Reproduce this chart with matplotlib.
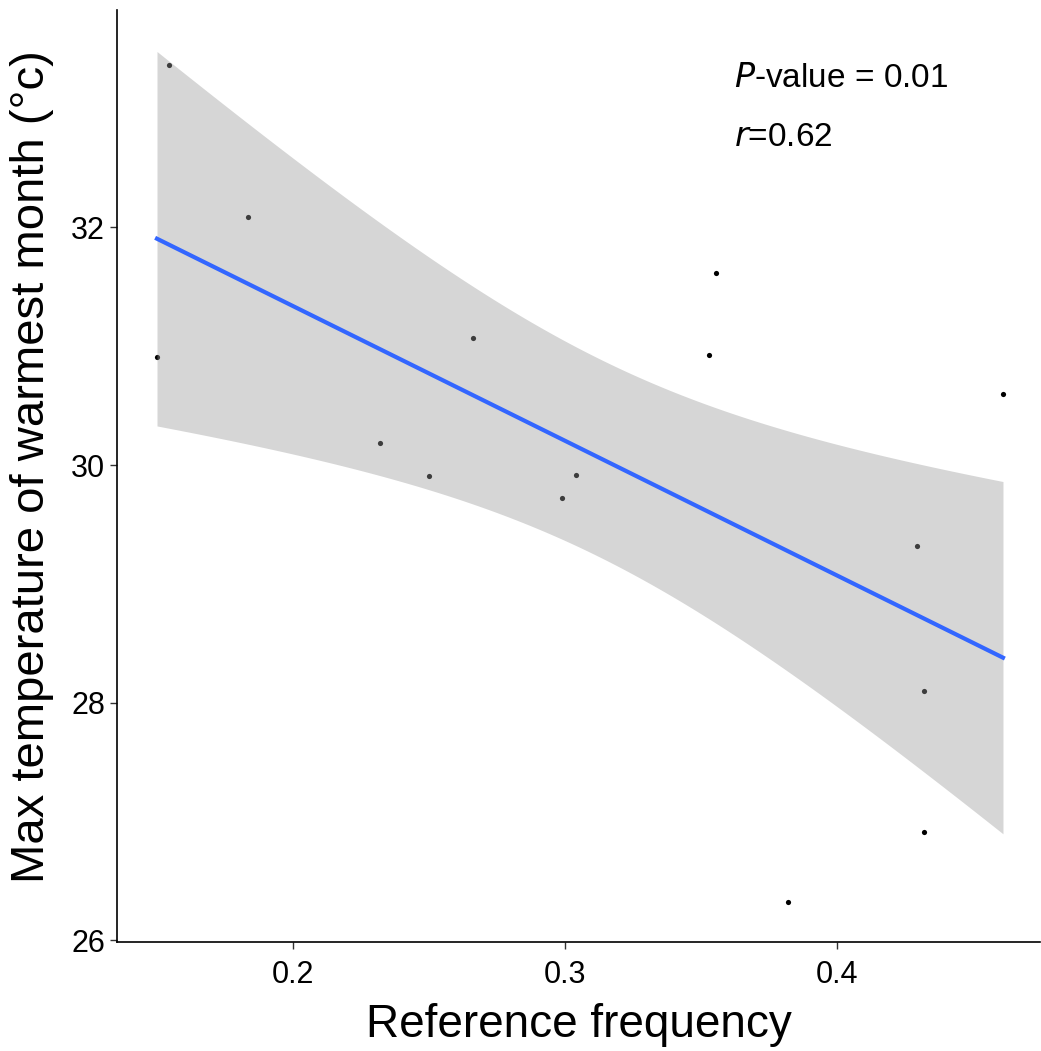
import numpy as np
import matplotlib.pyplot as plt

plt.rcParams['font.family'] = ['Liberation Sans', 'DejaVu Sans']

# data
ref_freq = [0.150, 0.1544, 0.1835, 0.232, 0.250, 0.266, 0.299, 0.304,
            0.353, 0.3555, 0.382, 0.4294, 0.432, 0.432, 0.461]
max_temp = [30.91, 33.37, 32.09, 30.185, 29.91, 31.07, 29.72, 29.92,
            30.93, 31.62, 26.32, 29.32, 28.10, 26.91, 30.60]
x_ticks = [0.2, 0.3, 0.4]
y_ticks = [26, 28, 30, 32]

x = np.array(ref_freq)
y = np.array(max_temp)
n = len(x)

# linear fit with 95% confidence band (like geom_smooth(method='lm'))
slope, intercept = np.polyfit(x, y, 1)
xs = np.linspace(x.min(), x.max(), 200)
ys = intercept + slope * xs
resid = y - (intercept + slope * x)
s = np.sqrt(np.sum(resid ** 2) / (n - 2))
t_crit = 2.160  # t(0.975, df=13)
se = s * np.sqrt(1.0 / n + (xs - x.mean()) ** 2 / np.sum((x - x.mean()) ** 2))

fig = plt.figure(figsize=(10.41, 10.51), dpi=100)
ax = fig.add_axes([0.1124, 0.1037, 0.8866, 0.8868])

ax.scatter(x, y, s=14, color='black', zorder=1, linewidths=0)
ax.fill_between(xs, ys - t_crit * se, ys + t_crit * se, color='#999999',
                alpha=0.4, linewidth=0, zorder=2)
ax.plot(xs, ys, color='#3366FF', linewidth=3, zorder=3)

ax.set_xlim(0.1353, 0.4746)
ax.set_ylim(25.985, 33.83)
ax.set_xticks(x_ticks)
ax.set_xticklabels(['0.2', '0.3', '0.4'])
ax.set_yticks(y_ticks)
ax.tick_params(labelsize=22, length=5, width=1, color='#333333')
ax.tick_params(axis='x', pad=8)

for side in ['top', 'right']:
    ax.spines[side].set_visible(False)
for side in ['left', 'bottom']:
    ax.spines[side].set_linewidth(1.2)

ax.set_xlabel('Reference frequency', fontsize=33, va='center')
ax.set_ylabel('Max temperature of warmest month (°c)', fontsize=34, va='center')
ax.xaxis.set_label_coords(0.5, -0.089)
ax.yaxis.set_label_coords(-0.092, 0.51)

ax.text(0.362, 33.25, r'$\it{P}$-value = 0.01', fontsize=24, va='center')
ax.text(0.362, 32.76, r'$\it{r}$=0.62', fontsize=24, va='center')

plt.savefig('out.png', dpi=100)
